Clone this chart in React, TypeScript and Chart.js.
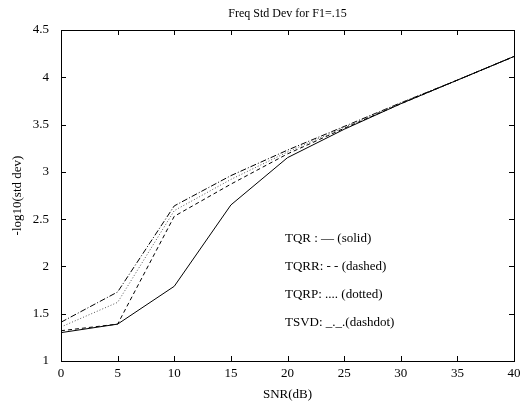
import React, { useEffect, useRef } from "react";
import { Chart, registerables } from "chart.js";
Chart.register(...registerables);

const snr = [0, 5, 10, 15, 20, 25, 30, 35, 40];
const tqr = [1.3, 1.39, 1.79, 2.65, 3.15, 3.45, 3.72, 3.97, 4.22];
const tqrr = [1.32, 1.39, 2.53, 2.87, 3.19, 3.46, 3.72, 3.97, 4.22];
const tqrp = [1.36, 1.62, 2.59, 2.92, 3.21, 3.47, 3.73, 3.97, 4.22];
const tsvd = [1.41, 1.73, 2.64, 2.96, 3.23, 3.48, 3.73, 3.97, 4.22];
const legendLines = ["TQR : \u2014 (solid)", "TQRR: - - (dashed)", "TQRP: .... (dotted)", "TSVD: _._.(dashdot)"];
const titleText = "Freq Std Dev for F1=.15";
const xTitle = "SNR(dB)";
const yTitle = "-log10(std dev)";

const FONT = "'Liberation Serif', 'DejaVu Serif', serif";

const framePlugin = {
  id: "frame",
  afterDraw(chart: any) {
    const { ctx, chartArea: a, scales } = chart;
    const xs = scales.x, ys = scales.y;
    ctx.save();
    ctx.strokeStyle = "#000";
    ctx.lineWidth = 1;
    ctx.setLineDash([]);
    ctx.strokeRect(Math.round(a.left) + 0.5, Math.round(a.top) + 0.5, Math.round(a.right - a.left), Math.round(a.bottom - a.top));
    const tl = 5;
    ctx.beginPath();
    for (let v = 0; v <= 40; v += 5) {
      const px = Math.round(xs.getPixelForValue(v)) + 0.5;
      ctx.moveTo(px, a.bottom); ctx.lineTo(px, a.bottom - tl);
      ctx.moveTo(px, a.top); ctx.lineTo(px, a.top + tl);
    }
    for (let v = 1; v <= 4.5001; v += 0.5) {
      const py = Math.round(ys.getPixelForValue(v)) + 0.5;
      ctx.moveTo(a.left, py); ctx.lineTo(a.left + tl, py);
      ctx.moveTo(a.right, py); ctx.lineTo(a.right - tl, py);
    }
    ctx.stroke();
    ctx.fillStyle = "#000";
    ctx.font = "12px " + FONT;
    ctx.textAlign = "center";
    ctx.textBaseline = "middle";
    ctx.fillText(titleText, (a.left + a.right) / 2, 14);
    ctx.font = "13px " + FONT;
    ctx.textAlign = "left";
    legendLines.forEach((t, i) => ctx.fillText(t, 285, 239 + i * 28));
    ctx.restore();
  },
};

export default function App() {
  const ref = useRef<HTMLCanvasElement>(null);
  useEffect(() => {
    document.body.style.margin = "0";
    const mk = (label: string, data: number[], dash: number[], color: string) => ({
      label,
      data: snr.map((x, i) => ({ x, y: data[i] })),
      borderColor: color,
      borderWidth: 1,
      borderDash: dash,
      pointRadius: 0,
      fill: false,
      tension: 0,
    });
    const chart = new Chart(ref.current!, {
      type: "line",
      data: {
        datasets: [
          mk("TQR", tqr, [], "#000"),
          mk("TQRR", tqrr, [4, 3], "#000"),
          mk("TQRP", tqrp, [1, 2], "#555"),
          mk("TSVD", tsvd, [6, 2, 1, 2], "#000"),
        ],
      },
      options: {
        animation: false,
        responsive: false,
        layout: { padding: { left: 0, right: 8, top: 30, bottom: 0 } },
        plugins: { legend: { display: false }, tooltip: { enabled: false }, title: { display: false } },
        scales: {
          x: {
            type: "linear",
            min: 0,
            max: 40,
            grid: { display: false },
            border: { display: false },
            ticks: { stepSize: 5, color: "#000", font: { family: FONT, size: 13 }, padding: -3, maxRotation: 0, callback: (v: any) => String(v) },
            title: { display: true, text: xTitle, color: "#000", font: { family: FONT, size: 13 }, padding: { top: 10, bottom: 6 } },
            afterFit: (s: any) => { s.height = 47; },
          },
          y: {
            type: "linear",
            min: 1,
            max: 4.5,
            grid: { display: false },
            border: { display: false },
            ticks: { stepSize: 0.5, color: "#000", font: { family: FONT, size: 13 }, padding: 4, callback: (v: any) => String(v) },
            title: { display: true, text: yTitle, color: "#000", font: { family: FONT, size: 13 }, padding: { top: 10, bottom: 4 } },
            afterFit: (s: any) => { s.width = 61; },
          },
        },
      },
      plugins: [framePlugin],
    } as any);
    return () => chart.destroy();
  }, []);
  return <canvas ref={ref} width={522} height={408} style={{ display: "block" }} />;
}
